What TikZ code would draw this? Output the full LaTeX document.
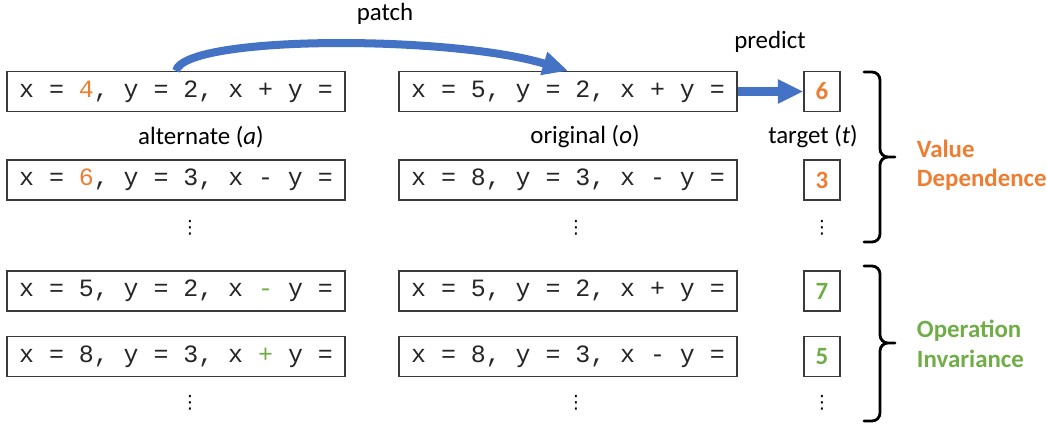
\documentclass[tikz,border=0pt]{standalone}
\usepackage{fontspec}
\setmainfont{Carlito}
\setmonofont{Liberation Mono}
\newfontfamily\symfont{DejaVu Sans}
\usetikzlibrary{positioning, arrows.meta}
\definecolor{valorange}{HTML}{ED7D31}
\definecolor{opgreen}{HTML}{70AD47}
\definecolor{patchblue}{HTML}{4472C4}
\definecolor{boxline}{HTML}{3A3A3A}

\begin{document}
\begin{tikzpicture}[x=0.025cm, y=-0.025cm, font=\fontsize{17.7}{21}\selectfont,
    prompt/.style={draw=boxline, line width=1pt, minimum width=8.45cm, minimum height=1cm, inner sep=0pt, text=black!85, font=\fontsize{17.7}{21}\selectfont\ttfamily},
    answer/.style={draw=boxline, line width=1pt, minimum width=0.9cm, minimum height=1cm, inner sep=0pt, font=\fontsize{17.7}{21}\selectfont\bfseries},
    more/.style={font=\fontsize{13}{14}\selectfont\symfont},
    group/.style={align=left, anchor=west, font=\fontsize{17.7}{21}\selectfont\bfseries},
    bigarrow/.style={patchblue, line width=5.7pt, -{Triangle[length=18pt, width=16pt]}},
    groupbrace/.style={line width=2pt, line join=round, line cap=round}]
  % Canvas
  \useasboundingbox (0,0) rectangle (1047,423);

  % Value dependence rows
  \node[prompt] (alt1) at (176,91.5) {x = \textcolor{valorange}{4}, y = 2, x + y =};
  \node[prompt] (orig1) at (568,91.5) {x = 5, y = 2, x + y =};
  \node[answer, text=valorange] (tgt1) at (822,91.5) {6};
  \node[prompt] (alt2) at (176,180) {x = \textcolor{valorange}{6}, y = 3, x - y =};
  \node[prompt] (orig2) at (568,180) {x = 8, y = 3, x - y =};
  \node[answer, text=valorange] (tgt2) at (822,180) {3};

  % Operation invariance rows
  \node[prompt] (alt3) at (176,291) {x = 5, y = 2, x \textcolor{opgreen}{-} y =};
  \node[prompt] (orig3) at (568,291) {x = 5, y = 2, x + y =};
  \node[answer, text=opgreen] (tgt3) at (822,291) {7};
  \node[prompt] (alt4) at (176,356.5) {x = 8, y = 3, x \textcolor{opgreen}{+} y =};
  \node[prompt] (orig4) at (568,356.5) {x = 8, y = 3, x - y =};
  \node[answer, text=opgreen] (tgt4) at (822,356.5) {5};

  % Dots
  \foreach \x in {190, 576, 822} {
    \node[more] at (\x,228) {⋮};
    \node[more] at (\x,403) {⋮};
  }

  % Column labels
  \node (altlbl) at (201,137) {alternate (\textit{a})};
  \node (origlbl) at (585,137) {original (\textit{o})};
  \node (tgtlbl) at (813,137) {target (\textit{t})};

  % Patch and predict arrows
  \draw[bigarrow] (alt1.north) .. controls (185,35) and (450,35) .. (orig1.north);
  \node (patchlbl) at (385,14) {patch};
  \draw[bigarrow] (orig1.east) -- (tgt1.west);
  \node (predictlbl) at (770,42) {predict};

  % Braces and group names
  \foreach \top/\mid/\bot in {72/157/242, 266/343/421} {
    \draw[groupbrace] (864,\top) -- (872,\top) to[out=0, in=90] (880,\top+8)
      -- (880,\mid-8) to[out=-90, in=180] (888,\mid) -- (895,\mid)
      (888,\mid) to[out=180, in=90] (880,\mid+8)
      -- (880,\bot-8) to[out=-90, in=0] (872,\bot) -- (864,\bot);
  }
  \node[group, text=valorange] (valuelbl) at (912,165) {Value\\Dependence};
  \node[group, text=opgreen] (oplbl) at (912,344) {Operation\\Invariance};
\end{tikzpicture}
\end{document}
